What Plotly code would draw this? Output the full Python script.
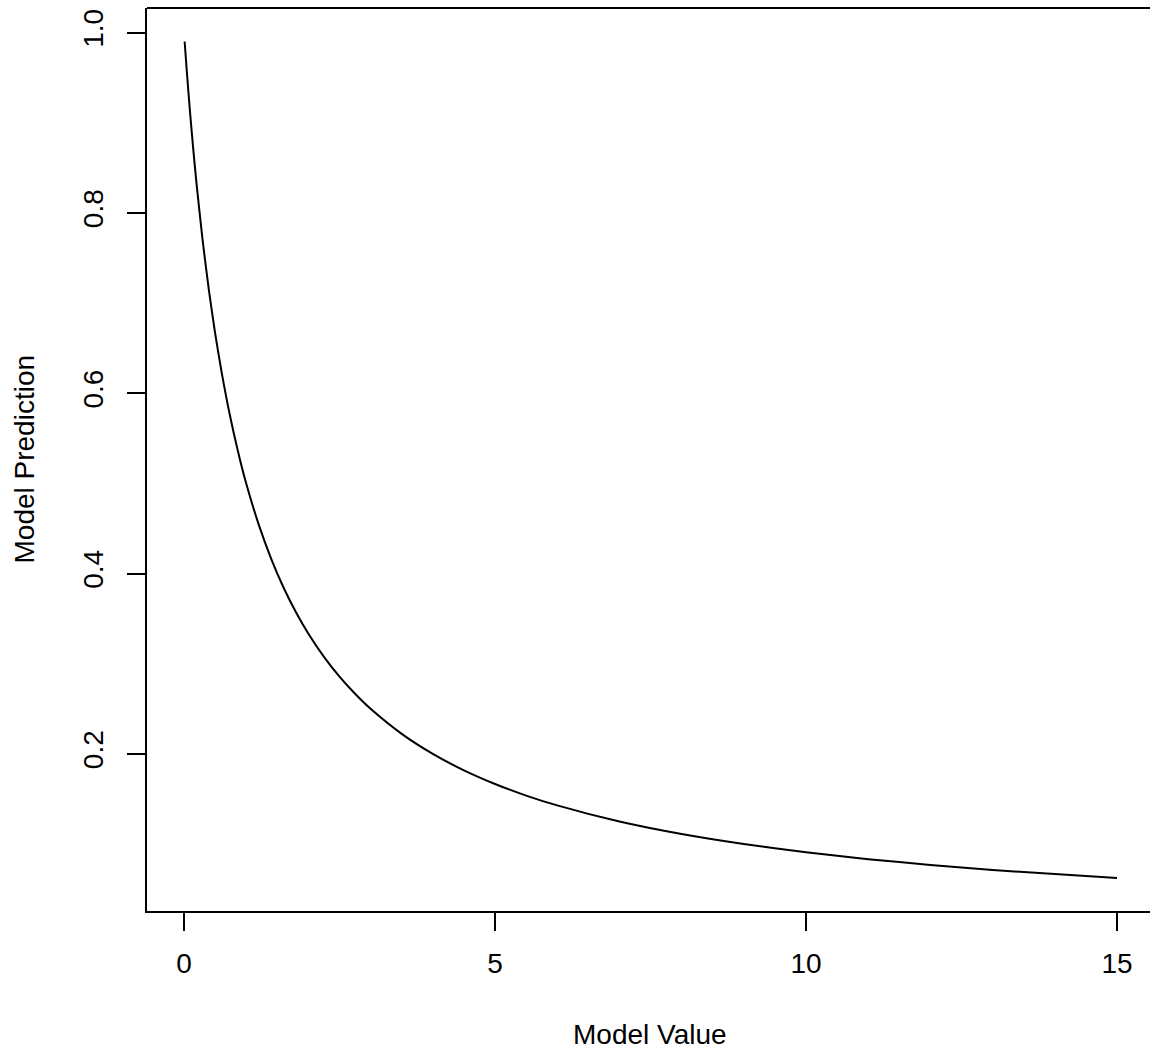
import plotly.graph_objects as go

# values
model_value = [0.01, 0.05, 0.1, 0.15, 0.2, 0.3, 0.4, 0.5, 0.6, 0.7, 0.8, 0.9, 1.0, 1.2,
               1.4, 1.6, 1.8, 2.0, 2.25, 2.5, 2.75, 3.0, 3.5, 4.0, 4.5, 5.0, 5.5, 6.0,
               7.0, 8.0, 9.0, 10.0, 11.0, 12.0, 13.0, 14.0, 15.0]
model_prediction = [0.9901, 0.9524, 0.9091, 0.8696, 0.8333, 0.7692, 0.7143, 0.6667,
                    0.6250, 0.5882, 0.5556, 0.5263, 0.5000, 0.4545, 0.4167, 0.3846,
                    0.3571, 0.3333, 0.3077, 0.2857, 0.2667, 0.2500, 0.2222, 0.2000,
                    0.1818, 0.1667, 0.1538, 0.1429, 0.1250, 0.1111, 0.1000, 0.0909,
                    0.0833, 0.0769, 0.0714, 0.0667, 0.0625]

x_ticks = [0, 5, 10, 15]
y_ticks = [0.2, 0.4, 0.6, 0.8, 1.0]
y_tick_labels = ["0.2", "0.4", "0.6", "0.8", "1.0"]

FONT = "Liberation Sans, Arial, Helvetica, sans-serif"
W, H = 1150, 1052
ML, MR, MT, MB = 147, 0, 8, 141
PW, PH = W - ML - MR, H - MT - MB

fig = go.Figure()
fig.add_trace(go.Scatter(
    x=model_value, y=model_prediction, mode="lines",
    line=dict(color="black", width=2, shape="spline", smoothing=0.6),
    showlegend=False, hoverinfo="skip"))

fig.update_layout(
    width=W, height=H,
    margin=dict(l=ML, r=MR, t=MT, b=MB, autoexpand=False),
    paper_bgcolor="white", plot_bgcolor="white",
    font=dict(family=FONT, size=28, color="black"),
    xaxis=dict(range=[-0.595, 15.53], tickvals=x_ticks, ticks="outside", ticklen=18,
               tickwidth=1.6, tickcolor="black", showgrid=False, zeroline=False,
               showline=True, linecolor="black", linewidth=2, mirror=False,
               tickfont=dict(size=28, family=FONT), automargin=False,
               ticklabelstandoff=8),
    yaxis=dict(range=[0.0258, 1.0272], tickvals=y_ticks, ticktext=y_tick_labels,
               ticks="outside", ticklen=18, tickwidth=1.6, tickcolor="black",
               showgrid=False, zeroline=False, showline=True, linecolor="black",
               linewidth=2, mirror=False, tickangle=-90,
               tickfont=dict(size=28, family=FONT), automargin=False,
               ticklabelstandoff=13),
    shapes=[dict(type="line", xref="paper", yref="paper", x0=0, x1=1.0, y0=1, y1=1,
                 line=dict(color="black", width=2))],
    annotations=[
        dict(text="Model Value", xref="paper", yref="paper", x=(650 - ML) / PW,
             y=-123 / PH, xanchor="center", yanchor="middle", showarrow=False,
             font=dict(size=28, family=FONT)),
        dict(text="Model Prediction", xref="paper", yref="paper", x=-123 / PW,
             y=0.5, xanchor="center", yanchor="middle", textangle=-90, showarrow=False,
             font=dict(size=28, family=FONT)),
    ],
)

fig.write_html("out.html")
